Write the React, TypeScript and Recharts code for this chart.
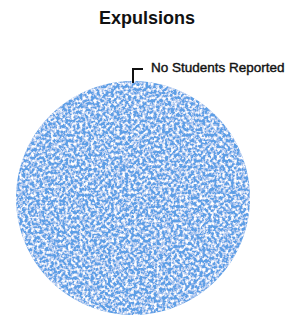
import React from 'react';
import { PieChart, Pie, Cell } from 'recharts';

const categories = ['No Students Reported'];
const values = [100];
const colors = ['#5d9fe6'];

const chartData = categories.map((name, i) => ({ name, value: values[i] }));

const renderLabel = (props: any) => {
  const { cx, cy, outerRadius, name } = props;
  const topY = cy - outerRadius;
  return (
    <g>
      <polyline
        points={`${cx},${topY + 2} ${cx},${topY - 12} ${cx + 10},${topY - 12}`}
        fill="none"
        stroke="#111"
        strokeWidth={2}
      />
      <text
        x={cx + 18}
        y={topY - 13}
        fill="#111"
        stroke="#111"
        strokeWidth={0.4}
        fontSize={13.5}
        fontFamily="'Liberation Sans', Arial, sans-serif"
        dominantBaseline="middle"
      >
        {name}
      </text>
    </g>
  );
};

export default function App() {
  return (
    <div style={{ position: 'relative', width: 286, height: 318, background: '#fff' }}>
      <style>{`body { margin: 0; }`}</style>
      <div
        style={{
          position: 'absolute',
          top: 8,
          left: 0,
          width: 294,
          textAlign: 'center',
          fontFamily: "'Liberation Sans', Arial, sans-serif",
          fontWeight: 'bold',
          fontSize: 18,
          color: '#111',
        }}
      >
        Expulsions
      </div>
      <PieChart width={286} height={318}>
        <defs>
          <filter id="speckle" x="0" y="0" width="100%" height="100%">
            <feTurbulence type="fractalNoise" baseFrequency="0.35" numOctaves={2} seed={5} result="noise" />
            <feColorMatrix
              in="noise"
              type="matrix"
              values="0 0 0 0 1  0 0 0 0 1  0 0 0 0 1  0 0 0 -3.2 1.9"
              result="spots"
            />
            <feComposite in="spots" in2="SourceGraphic" operator="in" result="clipped" />
            <feMerge>
              <feMergeNode in="SourceGraphic" />
              <feMergeNode in="clipped" />
            </feMerge>
          </filter>
        </defs>
        <Pie
          data={chartData}
          dataKey="value"
          nameKey="name"
          cx={128}
          cy={193}
          outerRadius={117}
          startAngle={90}
          endAngle={-270}
          stroke="none"
          label={renderLabel}
          labelLine={false}
          isAnimationActive={false}
        >
          {chartData.map((d, i) => (
            <Cell key={d.name} fill={colors[i]} filter="url(#speckle)" />
          ))}
        </Pie>
      </PieChart>
    </div>
  );
}
